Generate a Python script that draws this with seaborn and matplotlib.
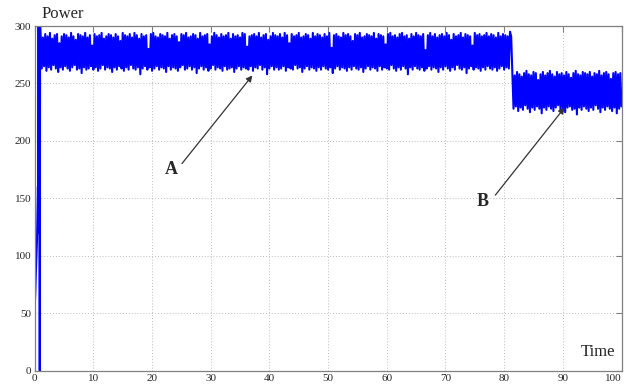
import numpy as np
import pandas as pd
import matplotlib
matplotlib.use("Agg")
import matplotlib.pyplot as plt
import seaborn as sns

# Start-up transient
start_t = [0.0, 0.1, 0.2, 0.3, 0.4, 0.5, 0.55, 0.6, 0.66, 0.72, 0.8, 0.86, 0.92]
start_p = [55, 68, 86, 100, 115, 145, 160, 143, 300, 120, 300, 0, 300]

# Regime A (t = 1.0 ... 81.0): upper and lower swings of the oscillation
a_high = [
    292, 290, 293, 291, 294, 289, 292, 293, 285, 291,
    293, 292, 290, 294, 291, 288, 293, 292, 291, 294,
    290, 292, 283, 293, 291, 292, 294, 289, 291, 293,
    292, 290, 293, 291, 287, 294, 292, 291, 293, 290,
    294, 292, 289, 293, 291, 292, 280, 293, 294, 291,
    290, 293, 292, 291, 294, 289, 292, 293, 291, 286,
    293, 292, 294, 290, 291, 293, 292, 289, 294, 291,
    292, 293, 284, 291, 294, 292, 290, 293, 291, 292,
    294, 289, 293, 291, 292, 290, 294, 293, 282, 291,
    292, 293, 291, 294, 290, 292, 293, 288, 291, 294,
    292, 291, 293, 290, 294, 292, 285, 293, 291, 292,
    294, 290, 291, 293, 292, 289, 294, 291, 293, 292,
    290, 293, 291, 294, 281, 292, 293, 291, 290, 294,
    292, 293, 291, 287, 293, 292, 294, 290, 291, 293,
    292, 291, 294, 289, 293, 292, 291, 284, 293, 294,
    291, 292, 290, 293, 294, 291, 292, 289, 293, 291,
    294, 292, 291, 293, 279, 292, 294, 291, 293, 290,
    292, 293, 291, 294, 292, 288, 293, 291, 292, 294,
    290, 293, 292, 291, 283, 294, 292, 293, 291, 292,
    294, 291, 293, 292, 290, 294, 291, 293, 292, 291,
    295,
]
a_low = [
    263, 265, 261, 264, 262, 266, 263, 260, 264, 262,
    265, 263, 261, 264, 266, 262, 263, 259, 264, 262,
    263, 265, 262, 264, 261, 263, 266, 262, 264, 263,
    260, 264, 262, 265, 263, 261, 264, 262, 266, 263,
    262, 264, 258, 263, 265, 262, 264, 261, 263, 265,
    262, 264, 263, 260, 265, 262, 264, 263, 261, 264,
    266, 262, 263, 265, 262, 264, 259, 263, 265, 262,
    264, 261, 263, 266, 262, 264, 263, 261, 265, 262,
    263, 264, 260, 263, 265, 262, 264, 263, 262, 265,
    261, 264, 263, 266, 262, 264, 258, 263, 265, 262,
    264, 262, 263, 265, 261, 264, 263, 262, 266, 263,
    264, 260, 263, 265, 262, 264, 263, 261, 264, 262,
    265, 263, 262, 264, 259, 263, 265, 262, 264, 263,
    261, 264, 262, 265, 263, 262, 264, 260, 263, 265,
    262, 264, 263, 261, 265, 262, 264, 263, 262, 266,
    263, 261, 264, 262, 265, 263, 258, 264, 262, 265,
    263, 262, 264, 261, 263, 265, 262, 264, 263, 260,
    264, 262, 265, 263, 261, 264, 262, 266, 263, 262,
    264, 259, 263, 265, 262, 264, 263, 261, 264, 262,
    265, 263, 262, 264, 261, 263, 265, 262, 264, 263,
    291,
]

# Regime B (t = 81.4 ... 99.8)
b_high = [
    259, 257, 260, 258, 256, 259, 261, 258, 257, 260,
    259, 253, 258, 260, 257, 259, 261, 258, 256, 260,
    258, 259, 257, 260, 258, 255, 259, 261, 258, 257,
    260, 259, 258, 260, 256, 259, 258, 261, 257, 259,
    260, 258, 254, 259, 260, 258, 259,
]
b_low = [
    228, 230, 226, 229, 227, 231, 228, 225, 229, 227,
    230, 228, 224, 229, 227, 230, 228, 226, 229, 231,
    227, 228, 225, 229, 230, 227, 228, 223, 229, 227,
    230, 228, 226, 229, 227, 231, 228, 225, 229, 227,
    230, 228, 226, 229, 224, 228, 230,
]

x_ticks = list(range(0, 101, 10))
y_ticks = list(range(0, 301, 50))


def zigzag(t0, step, highs, lows):
    t_hi = t0 + step * np.arange(len(highs))
    t_lo = t_hi + step / 2
    t = np.column_stack([t_hi, t_lo]).ravel()
    p = np.column_stack([highs, lows]).ravel()
    return t, p


ta, pa = zigzag(1.0, 0.4, a_high, a_low)
tb, pb = zigzag(81.4, 0.4, b_high, b_low)
t_all = np.concatenate([start_t, ta, tb])
p_all = np.concatenate([start_p, pa, pb])
df = pd.DataFrame({"Time": t_all, "Power": p_all})

sns.set_style("white")
plt.rcParams["font.family"] = ["Liberation Serif", "DejaVu Serif"]
plt.rcParams["path.simplify"] = False

fig = plt.figure(figsize=(6.29, 3.85), dpi=100)
ax = fig.add_axes([34.7 / 629, 1 - 370.7 / 385, (621.5 - 34.7) / 629, (370.7 - 26) / 385])

sns.lineplot(data=df, x="Time", y="Power", estimator=None, sort=False,
             color="#0000ff", lw=1.5, ax=ax)

ax.set_xlim(0, 100)
ax.set_ylim(0, 300)
ax.set_xticks(x_ticks)
ax.set_yticks(y_ticks)
ax.set_xlabel("")
ax.set_ylabel("")
ax.grid(True, linestyle=(0, (1, 2)), color="#bdbdbd", lw=0.7)
ax.tick_params(direction="in", top=True, right=True, length=4, width=0.8,
               color="#808080", labelsize=8, pad=2.5)
for s in ax.spines.values():
    s.set_color("#808080")
    s.set_linewidth(0.9)

# keep the last x label inside the figure
ax.get_xticklabels()[-1].set_horizontalalignment("right")

fig.text(42 / 629, 1 - 14 / 385, "Power", fontsize=12, ha="left", va="center")
ax.text(99, 16, "Time", fontsize=12, ha="right", va="center")

arrow = dict(arrowstyle="-|>", color="#333333", lw=0.9, mutation_scale=9,
             shrinkA=0, shrinkB=0)
ax.annotate("", xy=(37.1, 257), xytext=(25.1, 180.3), arrowprops=arrow)
ax.text(23.3, 175.5, "A", fontsize=13, fontweight="bold", ha="center", va="center")
ax.annotate("", xy=(90.3, 229), xytext=(78.5, 152.8), arrowprops=arrow)
ax.text(76.4, 147, "B", fontsize=13, fontweight="bold", ha="center", va="center")

fig.savefig("out.png", dpi=100)
